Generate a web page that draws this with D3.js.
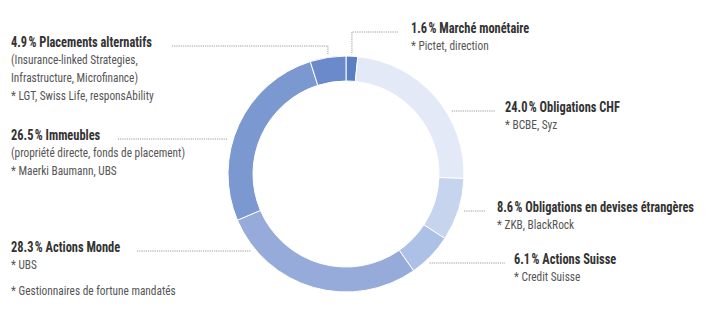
<!DOCTYPE html>
<html><head><meta charset="utf-8">
<script src="https://cdn.jsdelivr.net/npm/d3@7"></script>
<style>
html,body{margin:0;padding:0;background:#fff;}
svg{display:block;}
text{font-family:"Roboto Condensed","Liberation Sans Narrow","DejaVu Sans Condensed",sans-serif;}
</style></head>
<body>
<svg id="chart" width="719" height="322"></svg>
<script>
const categories = ["Marché monétaire","Obligations CHF","Obligations en devises étrangères","Actions Suisse","Actions Monde","Immeubles","Placements alternatifs"];
const shares = [1.6, 24.0, 8.6, 6.1, 28.3, 26.5, 4.9];
const details = [
  ["* Pictet, direction"],
  ["* BCBE, Syz"],
  ["* ZKB, BlackRock"],
  ["* Credit Suisse"],
  ["* UBS"],
  ["(propriété directe, fonds de placement)","* Maerki Baumann, UBS"],
  ["(Insurance-linked Strategies,","Infrastructure, Microfinance)","* LGT, Swiss Life, responsAbility"]
];
const colors = ["#5b7ec4","#e3e9f6","#c7d4ee","#adc0e6","#96abd9","#7c98d0","#6a8acb"];
const footnote = "* Gestionnaires de fortune mandatés";

// layout (label placement)
const layout = [
  {side:"right", elbow:true,  x:411, y:33,  lineEnd:398},
  {side:"right", elbow:false, x:505, y:112, lineEnd:495},
  {side:"right", elbow:false, x:497, y:212, lineEnd:485},
  {side:"right", elbow:false, x:514, y:264, lineEnd:505},
  {side:"left",  elbow:false, x:11,  y:252, lineStart:137},
  {side:"left",  elbow:false, x:11,  y:140, lineStart:118},
  {side:"left",  elbow:true,  x:11,  y:47,  lineStart:172}
];

const cx = 346, cy = 174, R = 118, r = 93, sx = 0.9;
const svg = d3.select("#chart");
const g = svg.append("g").attr("transform", `translate(${cx},${cy})`);

const pie = d3.pie().sort(null).value(d => d)(shares);
const arc = d3.arc().innerRadius(r).outerRadius(R);

g.selectAll("path.slice").data(pie).join("path")
  .attr("class","slice")
  .attr("d", arc)
  .attr("fill", (d,i) => colors[i])
  .attr("stroke", "#fff").attr("stroke-width", 1);

// leader lines
const lineStyle = sel => sel.attr("fill","none").attr("stroke","#9a9a9a").attr("stroke-width",1).attr("stroke-dasharray","1.2,1");
pie.forEach((d,i) => {
  const L = layout[i];
  const ly = L.y - 1;
  let pts;
  if (L.elbow) {
    const mid = (d.startAngle + d.endAngle)/2;
    const px = cx + Math.sin(mid) * R;
    const py = cy - Math.cos(mid) * (R + 3);
    if (L.side === "right") pts = [[px, py],[px, ly],[L.lineEnd, ly]];
    else pts = [[L.lineStart, ly],[px, ly],[px, py]];
  } else {
    const dy = ly - cy;
    const dx = Math.sqrt(Math.max(0, R*R - dy*dy));
    if (L.side === "right") pts = [[cx + dx + 6, ly],[L.lineEnd, ly]];
    else pts = [[L.lineStart, ly],[cx - dx - 6, ly]];
  }
  svg.append("path").attr("d", d3.line()(pts)).call(lineStyle);
});

function label(x, y, txt, size, weight, fill) {
  svg.append("text").attr("transform", `translate(${x},${y}) scale(${sx},1)`)
    .attr("font-size", size).attr("font-weight", weight).attr("fill", fill).text(txt);
}

categories.forEach((c,i) => {
  const L = layout[i];
  label(L.x, L.y, `${shares[i].toFixed(1)}\u202F% ${c}`, 13.8, "bold", "#333");
  details[i].forEach((line, k) => label(L.x, L.y + 17 + k*18, line, 12.6, "normal", "#555"));
});

label(11, 295, footnote, 12.6, "normal", "#555");
</script>
</body></html>
